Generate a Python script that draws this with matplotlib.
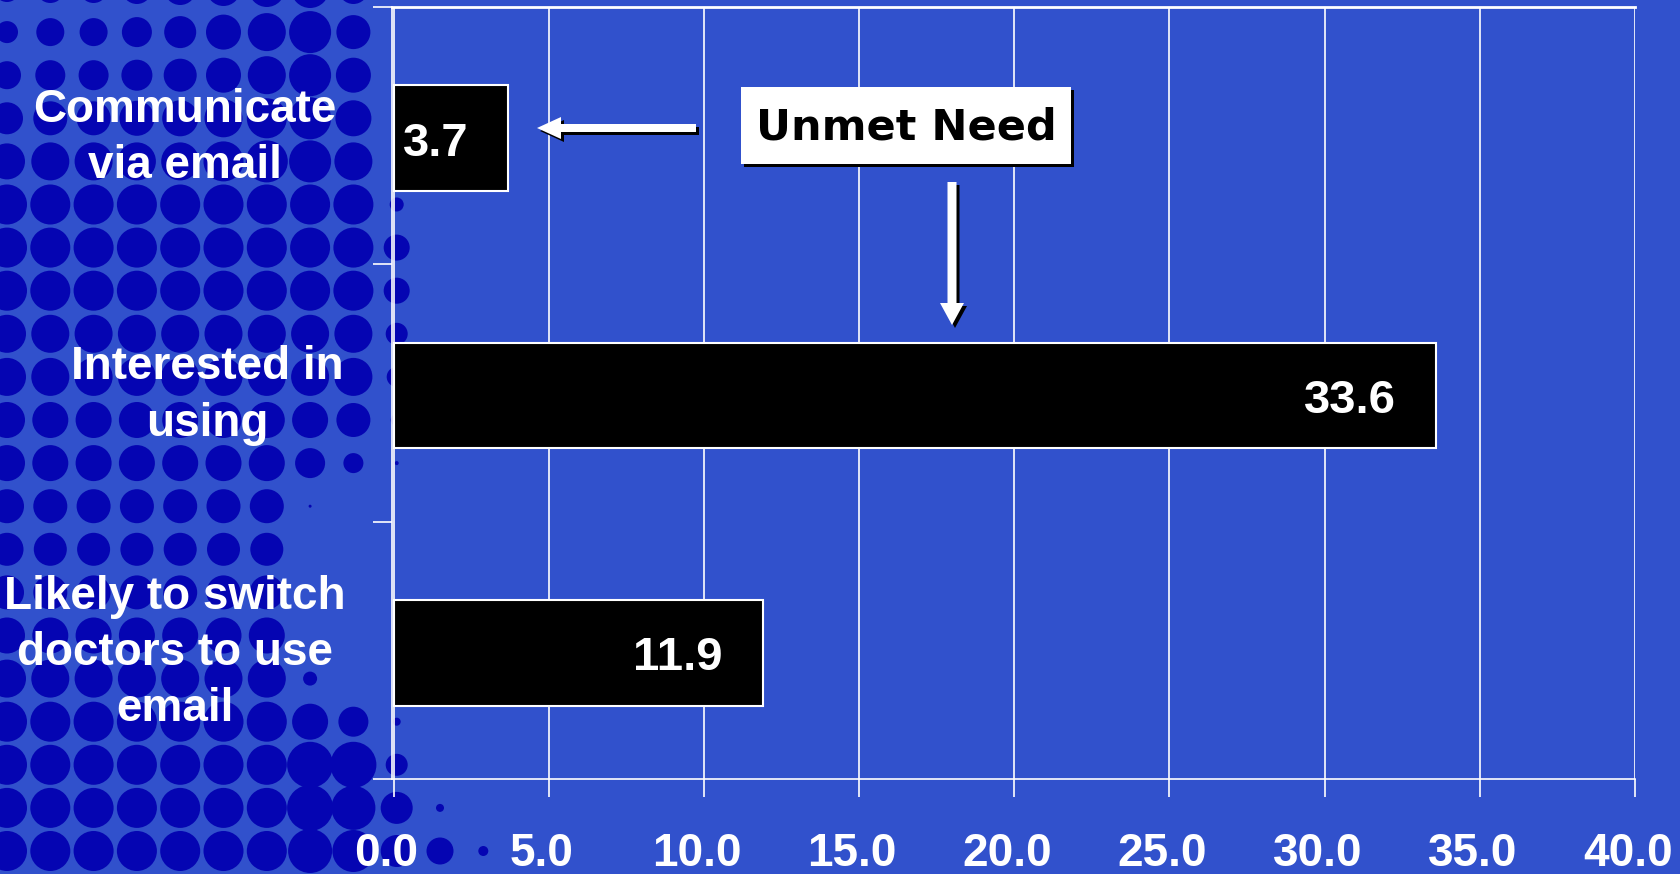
import matplotlib
matplotlib.use("Agg")
import matplotlib.pyplot as plt
from matplotlib.patches import Circle, Rectangle, FancyArrow
from matplotlib.transforms import ScaledTranslation, blended_transform_factory

# ---- data -------------------------------------------------------------
categories = ["Communicate\nvia email", "Interested in\nusing",
              "Likely to switch\ndoctors to use\nemail"]
values = [3.7, 33.6, 11.9]
x_ticks = [0, 5, 10, 15, 20, 25, 30, 35, 40]
x_tick_labels = [f"{t:.1f}" for t in x_ticks]
callout_text = "Unmet Need"

# ---- style ------------------------------------------------------------
BG = "#3151CC"
DOT = "#0505B2"
W, H = 1680, 874
LABEL_FONT = "Liberation Sans"

# halftone decoration on the left edge: dot diameters (px) per grid row
DOT_GRID = [
    [26, 28, 28, 30, 32, 34, 36, 38, 30, 0, 0, 0],
    [22, 28, 28, 30, 32, 35, 38, 42, 34, 0, 0, 0],
    [28, 30, 30, 31, 33, 35, 38, 42, 35, 0, 0, 0],
    [32, 34, 34, 35, 36, 38, 40, 42, 36, 0, 0, 0],
    [36, 38, 38, 38, 38, 40, 42, 42, 38, 0, 0, 0],
    [40, 40, 40, 40, 40, 40, 40, 40, 40, 14, 0, 0],
    [40, 40, 40, 40, 40, 40, 40, 40, 40, 26, 0, 0],
    [40, 40, 40, 40, 40, 40, 40, 40, 40, 26, 0, 0],
    [38, 38, 38, 38, 38, 38, 38, 38, 38, 22, 0, 0],
    [38, 38, 38, 38, 38, 38, 38, 38, 38, 20, 0, 0],
    [36, 36, 36, 36, 36, 36, 36, 36, 34, 12, 0, 0],
    [36, 36, 36, 36, 36, 36, 36, 30, 20, 4, 0, 0],
    [34, 34, 34, 34, 34, 34, 34, 3, 0, 0, 0, 0],
    [33, 33, 33, 33, 33, 33, 33, 0, 0, 0, 0, 0],
    [34, 34, 34, 34, 34, 34, 34, 0, 0, 0, 0, 0],
    [36, 36, 36, 36, 36, 36, 36, 0, 0, 0, 0, 0],
    [38, 38, 38, 38, 38, 38, 38, 14, 0, 0, 0, 0],
    [40, 40, 40, 40, 40, 40, 40, 36, 30, 8, 0, 0],
    [40, 40, 40, 40, 40, 40, 40, 46, 46, 22, 0, 0],
    [40, 40, 40, 40, 40, 40, 40, 46, 44, 32, 8, 0],
    [40, 40, 40, 40, 40, 40, 40, 44, 42, 32, 27, 10],
]

fig = plt.figure(figsize=(W / 100, H / 100), dpi=100, facecolor=BG)


def pixel_axes(z):
    a = fig.add_axes([0, 0, 1, 1])
    a.set_xlim(0, W)
    a.set_ylim(H, 0)
    a.axis("off")
    a.set_zorder(z)
    a.patch.set_visible(False)
    return a


# background dots
bg = pixel_axes(0)
for r, row in enumerate(DOT_GRID):
    cy = -11 + 43.1 * r
    for c, d in enumerate(row):
        if d > 0:
            bg.add_patch(Circle((7 + 43.3 * c, cy), d / 2, color=DOT, lw=0))

# ---- main bar chart ---------------------------------------------------
left, right, top, bottom = 392, 1635, 7, 779
ax = fig.add_axes([left / W, 1 - bottom / H, (right - left) / W, (bottom - top) / H])
ax.set_zorder(1)
ax.set_facecolor("none")

ypos = [i + 0.01 for i in range(len(categories))]
ax.barh(ypos, values, height=0.41, color="black", edgecolor="white",
        linewidth=1.5, zorder=3)

ax.set_xlim(-0.05, 40)
ax.set_ylim(2.5, -0.5)

# white vertical grid
ax.set_xticks(x_ticks)
ax.set_xticklabels(x_tick_labels)
ax.xaxis.grid(True, color="white", linewidth=1.2, zorder=0)
ax.set_axisbelow(True)

for side in ["left", "bottom", "top"]:
    ax.spines[side].set_color("white")
ax.spines["left"].set_linewidth(1.2)
ax.spines["bottom"].set_linewidth(1.2)
ax.spines["top"].set_linewidth(2)
ax.spines["right"].set_visible(False)

ax.tick_params(axis="x", colors="white", length=13, width=1.2, direction="out",
               pad=25, labelsize=33)
for lbl in ax.get_xticklabels():
    lbl.set_fontfamily(LABEL_FONT)
    lbl.set_fontweight("bold")
    lbl.set_transform(lbl.get_transform()
                      + ScaledTranslation(-7 / 100, 0, fig.dpi_scale_trans))

# band boundary ticks on the category axis, labels drawn separately
ax.set_yticks([-0.5, 0.5, 1.5, 2.5])
ax.set_yticklabels([])
ax.tick_params(axis="y", colors="white", length=14, width=1.2, direction="out")

# category labels
cat_x = [185, 207, 175]
trans = blended_transform_factory(bg.transData, ax.transData)
for i, (lab, cx) in enumerate(zip(categories, cat_x)):
    ax.text(cx, i + 0.01, lab, transform=trans, ha="center", va="center",
            color="white", fontsize=33, fontweight="bold",
            family=LABEL_FONT, linespacing=1.36, clip_on=False)

# value labels inside the bars
for i, v in enumerate(values):
    ax.annotate(f"{v:.1f}", xy=(v, ypos[i]), xytext=(-29, -12.5),
                textcoords="offset points", ha="right", va="baseline",
                color="white", fontsize=34, fontweight="bold",
                family=LABEL_FONT, zorder=5)

# ---- callout ----------------------------------------------------------
ov = pixel_axes(2)
# box with drop shadow
ov.add_patch(Rectangle((744, 90), 330, 77, color="black", lw=0))
ov.add_patch(Rectangle((741, 87), 330, 77, facecolor="white", lw=0))
ov.text(906, 127, callout_text, ha="center", va="center", fontsize=31,
        fontweight="bold", family="DejaVu Sans", color="black")

# arrows with drop shadows
arrow_specs = [
    dict(x=696, y=128, dx=-159, dy=0, width=8, head_width=22, head_length=24),
    dict(x=952, y=182, dx=0, dy=143, width=9, head_width=24, head_length=22),
]
for spec in arrow_specs:
    sh = dict(spec)
    sh["x"] += 3
    sh["y"] += 3
    ov.add_patch(FancyArrow(**sh, length_includes_head=True, color="black", lw=0))
    ov.add_patch(FancyArrow(**spec, length_includes_head=True, color="white", lw=0))

fig.savefig("out.png", dpi=100, facecolor=BG)
